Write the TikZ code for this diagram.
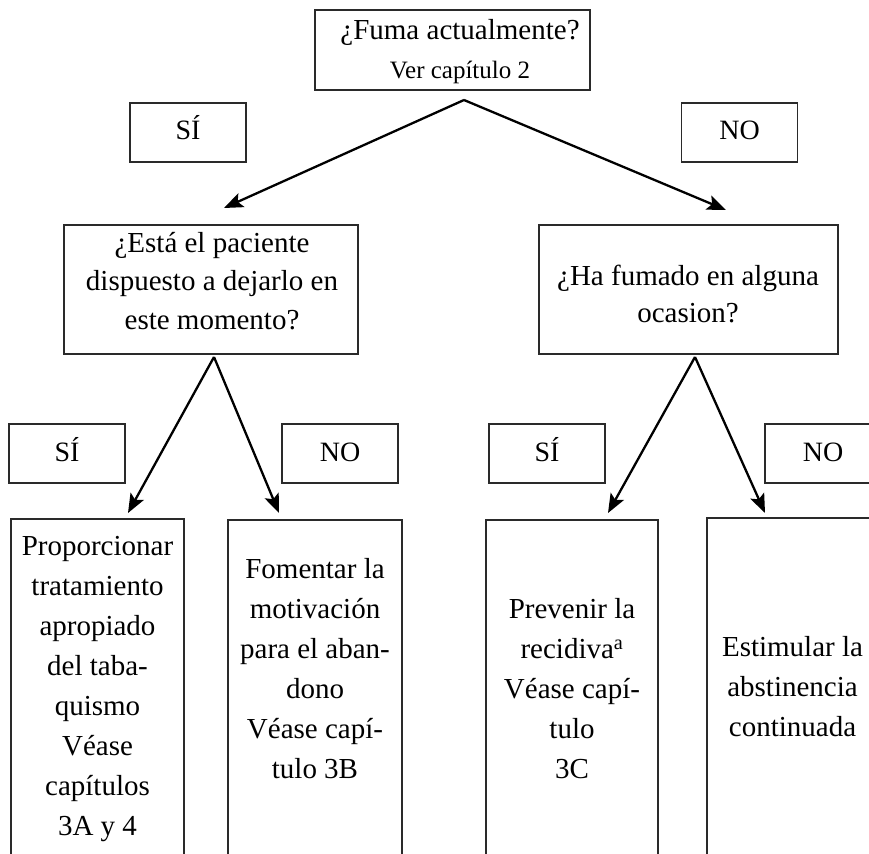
\documentclass[tikz,border=0pt]{standalone}
\usepackage{fontspec}
\setmainfont{Liberation Serif}
\usetikzlibrary{arrows.meta}
\definecolor{boxline}{HTML}{2A2A2A}
\begin{document}
\begin{tikzpicture}[x=1pt,y=-1pt,
  box/.style={draw=boxline, line width=1.2pt, rectangle, inner sep=0pt, outer sep=0pt},
  ans/.style={box, minimum width=116pt, minimum height=59pt, text height=18pt, text depth=3pt, font=\fontsize{28}{34}\selectfont},
  txt/.style={align=center, inner sep=0pt, font=\fontsize{29}{40}\selectfont},
  qtxt/.style={align=center, inner sep=0pt, font=\fontsize{29}{38.5}\selectfont},
  arr/.style={line width=2.3pt, draw=black, -{Stealth[length=19pt,width=15pt,inset=4pt]}}]
\useasboundingbox (0,0) rectangle (869,853);
\clip (0,0) rectangle (869,853);

% top question
\node[box, minimum width=275pt, minimum height=80pt] (top) at (452.5,50) {};
\node[align=center, inner sep=0pt, font=\fontsize{29}{39}\selectfont] (toptxt) at (460,52)
  {¿Fuma actualmente?\\{\fontsize{25}{39}\selectfont Ver capítulo 2}};

% first answers
\node[ans] (si1) at (188,132.5) {SÍ};
\node[ans] (no1) at (739.5,132.5) {NO};

% second level questions
\node[box, minimum width=294pt, minimum height=129pt] (q1) at (211,289.5) {};
\node[qtxt] (q1txt) at (212,281) {¿Está el paciente\\dispuesto a dejarlo en\\este momento?};
\node[box, minimum width=299pt, minimum height=129pt] (q2) at (688.5,289.5) {};
\node[qtxt, font=\fontsize{29}{37}\selectfont] (q2txt) at (688,293.5) {¿Ha fumado en alguna\\ocasion?};

% second answers
\node[ans] (si2) at (67,453.5) {SÍ};
\node[ans] (no2) at (340,453.5) {NO};
\node[ans] (si3) at (547,453.5) {SÍ};
\node[ans] (no3) at (823,453.5) {NO};

% bottom boxes (run past the page bottom)
\node[box, minimum width=173pt, minimum height=381pt] (b1) at (97.5,709.5) {};
\node[box, minimum width=174pt, minimum height=380pt] (b2) at (315,710) {};
\node[box, minimum width=172pt, minimum height=380pt] (b3) at (572,710) {};
\node[box, minimum width=172pt, minimum height=382pt] (b4) at (793,709) {};

\node[txt] (t1) at (97.5,689) {Proporcionar\\tratamiento\\apropiado\\del taba-\\quismo\\Véase\\capítulos\\3A y 4};
\node[txt] (t2) at (315,669) {Fomentar la\\motivación\\para el aban-\\dono\\Véase capí-\\tulo 3B};
\node[txt] (t3) at (572,689) {Prevenir la\\recidiva\textsuperscript{a}\\Véase capí-\\tulo\\3C};
\node[txt] (t4) at (792.5,687) {Estimular la\\abstinencia\\continuada};

% connectors
\coordinate (a0) at (464,100);
\coordinate (e1) at (224,208);
\coordinate (e2) at (726,210);
\coordinate (a1) at (214,357);
\coordinate (e3) at (128,513);
\coordinate (e4) at (279,513);
\coordinate (a2) at (695,357);
\coordinate (e5) at (608,513);
\coordinate (e6) at (765,513);

\draw[arr] (a0) -- (e1);
\draw[arr] (a0) -- (e2);
\draw[arr] (a1) -- (e3);
\draw[arr] (a1) -- (e4);
\draw[arr] (a2) -- (e5);
\draw[arr] (a2) -- (e6);
\end{tikzpicture}
\end{document}
